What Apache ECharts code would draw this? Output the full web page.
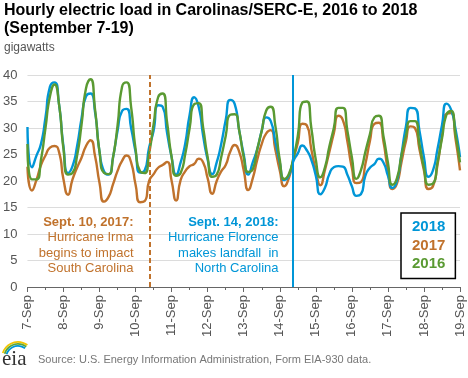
<!DOCTYPE html>
<html>
<head>
<meta charset="utf-8">
<script src="https://cdn.jsdelivr.net/npm/echarts@6/dist/echarts.min.js"></script>
<style>
html,body{margin:0;padding:0;background:#fff;}
#chart{width:468px;height:378px;}
</style>
</head>
<body>
<div id="chart"></div>
<script>
// ---- data (3-hourly samples, hours since 7-Sep 00:00) ----
const DAY_LABELS = ['7-Sep','8-Sep','9-Sep','10-Sep','11-Sep','12-Sep','13-Sep','14-Sep','15-Sep','16-Sep','17-Sep','18-Sep','19-Sep'];
const SERIES_NAMES = ['2018','2017','2016'];
const STEP_HOURS = 3;

const LOAD_2018 = [
  30.2, 22.6, 24.8, 27.0, 32.0, 37.8, 38.6, 34.5,
  26.5, 21.5, 22.8, 26.5, 31.8, 36.0, 36.5, 33.0,
  25.5, 21.8, 21.2, 24.5, 29.5, 33.2, 33.6, 30.0,
  25.5, 21.6, 22.0, 26.3, 29.5, 34.3, 34.0, 29.0,
  24.5, 21.2, 23.5, 27.0, 32.5, 35.8, 34.0, 28.5,
  24.0, 21.3, 23.5, 27.0, 31.5, 35.3, 34.5, 29.5,
  25.0, 21.2, 23.5, 26.0, 29.5, 32.0, 31.3, 27.5,
  23.5, 20.2, 21.0, 23.7, 25.2, 26.7, 25.8, 24.0,
  21.0, 17.5, 18.7, 21.3, 22.6, 22.8, 22.7, 21.2,
  19.0, 17.2, 17.5, 21.0, 22.5, 23.2, 24.2, 23.5,
  21.0, 18.7, 20.0, 25.0, 30.3, 33.8, 33.7, 29.5,
  24.5, 20.8, 22.0, 26.0, 30.5, 34.6, 33.5, 29.8,
  24.5
];
const LOAD_2017 = [
  22.7, 18.2, 20.2, 23.0, 24.8, 26.3, 26.6, 25.5,
  20.3, 17.4, 20.3, 22.5, 24.4, 26.6, 27.7, 24.7,
  19.6, 16.1, 17.0, 19.4, 21.9, 23.8, 24.8, 23.5,
  19.3, 16.0, 16.2, 20.0, 21.3, 22.5, 23.0, 23.6,
  20.0, 16.3, 20.2, 21.8, 22.8, 23.2, 24.2, 23.5,
  20.5, 17.6, 20.0, 21.8, 23.0, 25.5, 26.8, 25.5,
  22.0, 18.3, 20.5, 24.0, 27.0, 29.0, 29.6, 26.0,
  22.0, 19.0, 20.5, 24.0, 27.2, 30.8, 30.5, 26.0,
  22.0, 19.2, 22.0, 25.5, 29.0, 32.3, 31.5, 27.5,
  22.5, 19.6, 19.8, 23.2, 27.5, 30.8, 31.0, 27.5,
  22.0, 18.5, 19.5, 23.5, 27.5, 30.3, 30.0, 26.0,
  22.0, 18.5, 19.0, 23.0, 28.5, 32.7, 32.8, 28.0,
  22.0
];
const LOAD_2016 = [
  27.0, 20.3, 20.3, 24.0, 30.0, 36.0, 38.2, 34.5,
  26.0, 21.2, 21.5, 24.7, 30.6, 37.5, 39.2, 33.5,
  25.5, 21.5, 21.3, 24.5, 30.5, 37.8, 38.6, 34.0,
  26.0, 21.8, 21.5, 25.2, 30.7, 35.8, 36.5, 31.0,
  24.5, 21.0, 21.5, 25.0, 30.0, 34.5, 34.7, 30.0,
  24.5, 20.8, 21.2, 24.5, 28.5, 32.5, 32.6, 29.5,
  24.5, 21.7, 22.2, 26.0, 29.5, 33.3, 34.0, 30.5,
  24.0, 20.4, 21.3, 24.3, 28.5, 34.8, 35.0, 30.0,
  24.0, 20.7, 22.5, 26.5, 30.0, 33.8, 33.8, 29.5,
  24.5, 20.4, 22.0, 25.5, 28.8, 32.0, 32.3, 28.5,
  23.5, 19.3, 20.5, 24.8, 28.5, 31.3, 31.3, 27.0,
  22.5, 19.3, 19.5, 23.5, 28.0, 32.5, 33.2, 28.8,
  23.5
];
const IRMA_HOUR = 81.6;       // Sept 10, 2017 event line
const FLORENCE_HOUR = 176.5;  // Sept 14, 2018 landfall line
const Y_TICKS = [0, 5, 10, 15, 20, 25, 30, 35, 40];

// ---- styles ----
const BLUE = '#0096d7';
const ORANGE = '#c0722c';
const GREEN = '#5a9a32';
const FONT = '"Liberation Sans", Arial, sans-serif';

function pairs(arr) {
  return arr.map((v, i) => [i * STEP_HOURS, v]);
}

const chart = echarts.init(document.getElementById('chart'), null, {renderer: 'canvas'});

function annot(lines, x, color) {
  const ys = [222, 237.5, 253, 268.5];
  return lines.map((t, i) => ({
    type: 'text', x: x, y: ys[i], z: 50,
    style: {
      text: t, fill: color, align: 'right', verticalAlign: 'middle',
      font: (i === 0 ? 'bold ' : '') + '13px ' + FONT
    }
  }));
}

function logoArc(r, color) {
  return {type: 'arc', shape: {cx: 18, cy: 358, r: r, startAngle: Math.PI * 1.1, endAngle: Math.PI * 1.7},
          style: {stroke: color, lineWidth: 1.8, fill: null}};
}

const option = {
  animation: false,
  textStyle: {fontFamily: FONT},
  title: {
    text: 'Hourly electric load in Carolinas/SERC-E, 2016 to 2018\n(September 7-19)',
    left: 1, top: 2,
    textStyle: {fontSize: 16, fontWeight: 'bold', color: '#000', lineHeight: 18, fontFamily: FONT},
    subtext: 'gigawatts',
    itemGap: 4,
    subtextStyle: {fontSize: 12, color: '#555', fontFamily: FONT, fontWeight: 'normal'},
    padding: [0, 0, 0, 3]
  },
  legend: {
    orient: 'vertical',
    left: 401, top: 213,
    padding: [5, 10, 5, 6],
    itemGap: 0,
    itemWidth: 0, itemHeight: 0,
    icon: 'none',
    selectedMode: false,
    borderColor: '#000', borderWidth: 1.5,
    backgroundColor: '#fff',
    textStyle: {fontSize: 15, fontWeight: 'bold', lineHeight: 18.5, fontFamily: FONT},
    data: [
      {name: '2018', textStyle: {color: BLUE}},
      {name: '2017', textStyle: {color: ORANGE}},
      {name: '2016', textStyle: {color: GREEN}}
    ],
    z: 40
  },
  grid: {left: 26, right: 8, top: 75, bottom: 91, containLabel: false},
  xAxis: {
    type: 'value', min: 0, max: 288, interval: 24,
    axisLine: {lineStyle: {color: '#666', width: 1}},
    axisTick: {show: true, length: 5, lineStyle: {color: '#666'}},
    minorTick: {show: true, splitNumber: 2, length: 3, lineStyle: {color: '#666'}},
    splitLine: {show: false},
    axisLabel: {
      rotate: 90, margin: 8, color: '#555', fontSize: 13, fontFamily: FONT,
      formatter: v => DAY_LABELS[Math.round(v / 24)]
    }
  },
  yAxis: {
    type: 'value', min: Y_TICKS[0], max: Y_TICKS[Y_TICKS.length - 1], interval: 5,
    axisLine: {show: false}, axisTick: {show: false},
    splitLine: {lineStyle: {color: '#dcdcdc', width: 1}},
    axisLabel: {color: '#555', fontSize: 13, margin: 10, fontFamily: FONT}
  },
  series: [
    {
      name: SERIES_NAMES[1], type: 'line', data: pairs(LOAD_2017), showSymbol: false,
      smooth: 0.6, lineStyle: {color: ORANGE, width: 2.4}, itemStyle: {color: ORANGE}, z: 2,
      markLine: {
        silent: true, symbol: 'none', label: {show: false},
        lineStyle: {color: ORANGE, width: 2, type: [5, 3]},
        data: [{xAxis: IRMA_HOUR}]
      }
    },
    {
      name: SERIES_NAMES[0], type: 'line', data: pairs(LOAD_2018), showSymbol: false,
      smooth: 0.6, lineStyle: {color: BLUE, width: 2.4}, itemStyle: {color: BLUE}, z: 3,
      markLine: {
        silent: true, symbol: 'none', label: {show: false},
        lineStyle: {color: BLUE, width: 2, type: 'solid'},
        data: [{xAxis: FLORENCE_HOUR}]
      }
    },
    {
      name: SERIES_NAMES[2], type: 'line', data: pairs(LOAD_2016), showSymbol: false,
      smooth: 0.6, lineStyle: {color: GREEN, width: 2.4}, itemStyle: {color: GREEN}, z: 4
    }
  ],
  graphic: [
    ...annot(['Sept. 10, 2017:', 'Hurricane Irma', 'begins to impact', 'South Carolina'], 133.5, ORANGE),
    ...annot(['Sept. 14, 2018:', 'Hurricane Florence', 'makes landfall  in', 'North Carolina'], 278.5, BLUE),
    logoArc(16, '#f2c500'),
    logoArc(14, '#5ba639'),
    logoArc(12, BLUE),
    {type: 'text', x: 2, y: 359, style: {text: 'eia', fill: '#333', font: '21px "Liberation Serif", "DejaVu Serif", serif', verticalAlign: 'middle'}},
    {type: 'text', x: 38, y: 360, style: {text: 'Source: U.S. Energy Information Administration, Form EIA-930 data.', fill: '#777', font: '11px ' + FONT, verticalAlign: 'middle'}}
  ]
};
chart.setOption(option);
</script>
</body>
</html>
